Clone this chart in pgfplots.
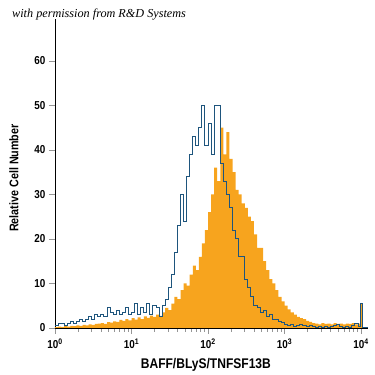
\documentclass[border=0pt]{standalone}
\usepackage{pgfplots}
\pgfplotsset{compat=1.18}
\usepackage{fontspec}
\setmainfont{Liberation Sans}
\newfontfamily\cond[FakeStretch=0.86]{Liberation Sans}
\newfontfamily\titlef{Liberation Serif}
\definecolor{fillor}{RGB}{247,164,30}
\definecolor{lineblue}{RGB}{30,85,125}
\definecolor{tickgray}{RGB}{150,150,150}
\begin{document}
\begin{tikzpicture}
\useasboundingbox (0,0) rectangle (375pt,375pt);
\node[anchor=base west, inner sep=0pt, font=\titlef\itshape\fontsize{12.2}{14}\selectfont] at (12pt,357pt) {with permission from R\&D Systems};
\begin{axis}[
  at={(55pt,47pt)}, anchor=south west,
  scale only axis, width=313pt, height=309pt,
  xmin=0, xmax=4.09, ymin=0, ymax=69.4,
  axis lines*=left,
  axis line style={black, line width=0.8pt},
  tick align=outside,
  every tick/.style={tickgray, line width=0.6pt},
  xtick={0,1,2,3,4},
  xticklabels={10\textsuperscript{0},10\textsuperscript{1},10\textsuperscript{2},10\textsuperscript{3},10\textsuperscript{4}},
  minor xtick={0.30103,0.47712,0.60206,0.69897,0.77815,0.84510,0.90309,0.95424,
               1.30103,1.47712,1.60206,1.69897,1.77815,1.84510,1.90309,1.95424,
               2.30103,2.47712,2.60206,2.69897,2.77815,2.84510,2.90309,2.95424,
               3.30103,3.47712,3.60206,3.69897,3.77815,3.84510,3.90309,3.95424},
  major tick length=6pt, minor tick length=4pt,
  ytick={0,10,20,30,40,50,60},
  /pgf/number format/assume math mode=true,
  yticklabel style={font=\cond\bfseries\fontsize{11.5}{13}\selectfont},
  xticklabel style={font=\cond\bfseries\fontsize{11.5}{13}\selectfont, yshift=-1pt},
  xlabel={BAFF/BLyS/TNFSF13B},
  ylabel={Relative Cell Number},
  xlabel style={font=\cond\bfseries\fontsize{14}{16}\selectfont, at={(axis description cs:0.482,-0.12)}, anchor=center},
  ylabel style={font=\cond\bfseries\fontsize{12.5}{14}\selectfont, at={(axis description cs:-0.131,0.485)}, anchor=center},
  clip=false,
]
\addplot[const plot, fill=fillor, draw=none] coordinates {
(0.00,0.2)(0.04,0.3)(0.08,0.2)(0.12,0.4)(0.16,0.3)(0.20,0.5)(0.24,0.4)(0.28,0.6)(0.32,0.5)(0.36,0.7)
(0.40,0.6)(0.44,0.8)(0.48,0.7)(0.52,0.9)(0.56,1.0)(0.60,1.1)(0.64,0.9)(0.68,1.3)(0.72,1.2)(0.76,1.5)
(0.80,1.4)(0.84,1.8)(0.88,1.6)(0.92,2.0)(0.96,1.7)(1.00,2.2)(1.04,1.9)(1.08,2.4)(1.12,2.0)(1.16,2.6)
(1.20,2.3)(1.24,2.8)(1.28,2.5)(1.32,3.0)(1.36,2.7)(1.40,3.5)(1.44,4.5)(1.48,4.0)(1.52,5.5)(1.56,7.0)
(1.60,6.5)(1.64,8.5)(1.68,10)(1.72,9.5)(1.76,12)(1.80,14)(1.84,13)(1.88,16)(1.92,19)(1.96,22)
(2.00,26)(2.04,30)(2.08,36)(2.12,33)(2.16,45)(2.20,39)(2.24,44)(2.28,38)(2.32,35)(2.36,31)
(2.40,30)(2.44,28)(2.48,27)(2.52,25)(2.56,24)(2.60,21)(2.64,18)(2.68,18)(2.72,15)(2.76,13)
(2.80,11)(2.84,10)(2.88,8.5)(2.92,7)(2.96,6)(3.00,5)(3.04,4.2)(3.08,3.5)(3.12,3.0)(3.16,2.5)
(3.20,2.2)(3.24,2.0)(3.28,1.6)(3.32,1.4)(3.36,1.1)(3.40,1.0)(3.44,0.8)(3.48,1.1)(3.52,0.9)(3.56,1.0)
(3.60,0.8)(3.64,1.1)(3.68,0.9)(3.72,1.0)(3.76,0.8)(3.80,1.0)(3.84,0.9)(3.88,1.1)(3.92,0.8)(3.96,1.0)
(3.99,5.6)(4.02,0)(4.09,0)
} \closedcycle;
\addplot[const plot, draw=lineblue, line width=1pt] coordinates {
(0.00,0.5)(0.04,1.0)(0.08,1.0)(0.12,0.5)(0.16,1.0)(0.20,1.5)(0.24,1.0)(0.28,1.5)(0.32,2.0)(0.36,1.5)
(0.40,2.0)(0.44,2.5)(0.48,2.0)(0.52,3.0)(0.56,2.5)(0.60,3.0)(0.64,2.5)(0.68,4.5)(0.72,3.5)(0.76,3.0)
(0.80,4.0)(0.84,3.0)(0.88,3.5)(0.92,4.5)(0.96,3.0)(1.00,3.5)(1.04,5.5)(1.08,3.0)(1.12,4.5)(1.16,3.5)
(1.20,5.5)(1.24,3.0)(1.28,5.0)(1.32,4.5)(1.36,2.5)(1.40,5.0)(1.44,6.5)(1.48,9.0)(1.52,12)(1.56,17)
(1.60,23)(1.64,30)(1.68,24)(1.72,34)(1.76,39)(1.80,43)(1.84,41)(1.88,45)(1.92,50)(1.96,41)
(2.00,46)(2.04,39)(2.08,50)(2.12,50)(2.16,37)(2.20,33)(2.24,30)(2.28,27)(2.32,22)(2.36,20)
(2.40,16)(2.44,16)(2.48,11)(2.52,9)(2.56,7)(2.60,5)(2.64,4.5)(2.68,3.5)(2.72,4.0)(2.76,2.5)
(2.80,3.0)(2.84,2.0)(2.88,1.8)(2.92,1.5)(2.96,1.2)(3.00,0.8)(3.04,0.5)(3.08,0.8)(3.12,0.3)(3.16,0.5)
(3.20,0.8)(3.24,0.5)(3.28,0.3)(3.32,0.5)(3.36,0.3)(3.40,0.2)(3.44,0.3)(3.48,0.2)(3.52,0.4)(3.56,0.2)
(3.60,0.3)(3.64,0.5)(3.68,0.8)(3.72,0.3)(3.76,0.2)(3.80,0.3)(3.84,0.2)(3.88,0.5)(3.92,1.0)(3.96,0.3)
(3.99,5.6)(4.02,0)(4.09,0)
};
\end{axis}
\end{tikzpicture}
\end{document}
